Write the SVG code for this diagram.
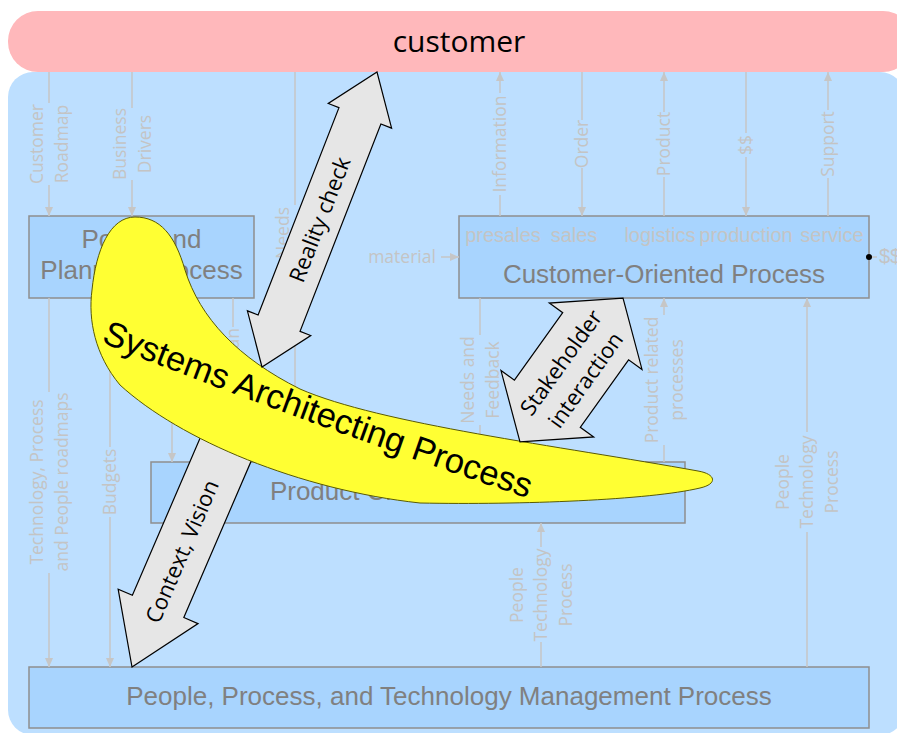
<svg xmlns="http://www.w3.org/2000/svg" width="897" height="733" viewBox="0 0 897 733">
<style>
.box{fill:#a8d4fe;stroke:#8e8e8e;stroke-width:1.5}
.boxt{font-family:'Liberation Sans',Arial,sans-serif;font-size:26px;fill:#808080;text-anchor:middle}
.sub{font-family:'Liberation Sans',Arial,sans-serif;font-size:20px;fill:#c4c4c4;text-anchor:middle}
.conn{stroke:#c6c6c6;stroke-width:1.5;fill:none}
.lbl{font-family:'Open Sans','DejaVu Sans',sans-serif;font-size:17.5px;fill:#c4c4c4;text-anchor:middle}
.big{fill:#e6e6e6;stroke:#000;stroke-width:1.2;stroke-linejoin:miter}
.bigt{font-family:'Open Sans','DejaVu Sans',sans-serif;font-size:22px;fill:#000;text-anchor:middle}
</style>
<defs>
<marker id="ah" viewBox="0 0 9 8" refX="9" refY="4" markerWidth="9" markerHeight="8" markerUnits="userSpaceOnUse" orient="auto"><path d="M0,0 L9,4 L0,8 z" fill="#c6c6c6"/></marker>
<path id="sapPath" d="M101,342 Q290,418 530,499"/>
</defs>

<g id="container"><rect x="8" y="72" width="897" height="663" rx="25" fill="#bddfff"/></g>

<g id="customer">
<rect x="8" y="11" width="905" height="61" rx="30" fill="#ffb8bb"/>
<text x="459" y="52" font-family="'Open Sans','DejaVu Sans',sans-serif" font-size="30" fill="#000" text-anchor="middle">customer</text>
</g>

<g id="policy">
<rect class="box" x="29" y="216" width="225" height="82"/>
<text class="boxt" x="141.5" y="248">Policy and</text>
<text class="boxt" x="141.5" y="279">Planning Process</text>
</g>

<g id="customer-oriented">
<rect class="box" x="459" y="216" width="410" height="82"/>
<text class="sub" x="503" y="242">presales</text>
<text class="sub" x="574" y="242">sales</text>
<text class="sub" x="660" y="242">logistics</text>
<text class="sub" x="746" y="242">production</text>
<text class="sub" x="832" y="242">service</text>
<text class="boxt" x="664" y="283">Customer-Oriented Process</text>
</g>

<g id="product-creation">
<rect class="box" x="151" y="462" width="534" height="61"/>
<text class="boxt" x="418" y="500">Product Creation Process</text>
</g>

<g id="ppt-management">
<rect class="box" x="29" y="667" width="840" height="61"/>
<text class="boxt" x="449" y="705">People, Process, and Technology Management Process</text>
</g>

<g id="connectors">
<path class="conn" marker-end="url(#ah)" d="M49,72 V103 M49,185 V216"/>
<path class="conn" marker-end="url(#ah)" d="M132,72 V108 M132,180 V216"/>
<path class="conn" marker-end="url(#ah)" d="M295,72 V205 M295,323 V462"/>
<path class="conn" marker-end="url(#ah)" d="M500,216 V195 M500,93 V72"/>
<path class="conn" marker-end="url(#ah)" d="M582,72 V120 M582,168 V216"/>
<path class="conn" marker-end="url(#ah)" d="M664,216 V177 M664,112 V72"/>
<path class="conn" marker-end="url(#ah)" d="M746,72 V133 M746,157 V216"/>
<path class="conn" marker-end="url(#ah)" d="M828,216 V178 M828,110 V72"/>
<path class="conn" marker-end="url(#ah)" d="M441,257 H459"/>
<path class="conn" d="M869,257 H877"/>
<circle cx="869" cy="257" r="3" fill="#000"/>
<path class="conn" marker-end="url(#ah)" d="M49,298 V392 M49,573 V667"/>
<path class="conn" marker-end="url(#ah)" d="M110,298 V447 M110,517 V667"/>
<path class="conn" marker-end="url(#ah)" d="M172,298 V462"/>
<path class="conn" marker-end="url(#ah)" d="M233,298 V327 M233,433 V462"/>
<path class="conn" marker-end="url(#ah)" d="M480,298 V335 M480,425 V462"/>
<path class="conn" marker-end="url(#ah)" d="M664,462 V445 M664,315 V298"/>
<path class="conn" marker-end="url(#ah)" d="M807,667 V532 M807,432 V298"/>
<path class="conn" marker-end="url(#ah)" d="M541,667 V642 M541,547 V523"/>

<g id="connector-labels">
<text class="lbl" transform="translate(49,144) rotate(-90)"><tspan x="0" y="-6">Customer</tspan><tspan x="0" y="18.5">Roadmap</tspan></text>
<text class="lbl" transform="translate(132,144) rotate(-90)"><tspan x="0" y="-6">Business</tspan><tspan x="0" y="18.5">Drivers</tspan></text>
<text class="lbl" transform="translate(295,267) rotate(-90)" style="text-anchor:end"><tspan x="60" y="-6" style="text-anchor:end">Needs</tspan></text>
<text class="lbl" transform="translate(500,144) rotate(-90)" y="6.3">Information</text>
<text class="lbl" transform="translate(582,144) rotate(-90)" y="6.3">Order</text>
<text class="lbl" transform="translate(664,144) rotate(-90)" y="6.3">Product</text>
<text class="lbl" transform="translate(746,145) rotate(-90)" y="6.3">$$</text>
<text class="lbl" transform="translate(828,144) rotate(-90)" y="6.3">Support</text>
<text class="lbl" x="402" y="263">material</text>
<text x="879" y="263" font-family="'Liberation Sans',Arial,sans-serif" font-size="20" fill="#c4c4c4">$$</text>
<text class="lbl" transform="translate(49,482) rotate(-90)"><tspan x="0" y="-6">Technology, Process</tspan><tspan x="0" y="18.5">and People roadmaps</tspan></text>
<text class="lbl" transform="translate(110,482) rotate(-90)" y="6.3">Budgets</text>
<text class="lbl" transform="translate(233,380) rotate(-90)" x="52" y="6.3" style="text-anchor:end">Plan</text>
<text class="lbl" transform="translate(480,380) rotate(-90)"><tspan x="0" y="-6">Needs and</tspan><tspan x="0" y="18.5">Feedback</tspan></text>
<text class="lbl" transform="translate(664,380) rotate(-90)"><tspan x="0" y="-6">Product related</tspan><tspan x="0" y="18.5">processes</tspan></text>
<text class="lbl" transform="translate(807,482) rotate(-90)"><tspan x="0" y="-18">People</tspan><tspan x="0" y="6.3">Technology</tspan><tspan x="0" y="31">Process</tspan></text>
<text class="lbl" transform="translate(541,595) rotate(-90)"><tspan x="0" y="-18">People</tspan><tspan x="0" y="6.3">Technology</tspan><tspan x="0" y="31">Process</tspan></text>
</g>
</g>

<g id="context-vision" transform="translate(132,667) rotate(-66.7)">
<path class="big" d="M0,0 L66,-43.5 L66,-28 L290,-28 L290,28 L66,28 L66,43.5 Z"/>
<text class="bigt" x="126" y="8">Context, Vision</text>
</g>

<g id="systems-architecting">
<path d="M135,217 C160,217 175,235 185,270 C200,318 238,358 300,389 C380,424 560,446 698,471 C716,474 718,484 700,488 C650,500 520,505 420,503 C300,490 180,440 120,385 C95,355 88,320 92,290 C96,250 110,217 135,217 Z" fill="#ffff33" stroke="#5a5a00" stroke-width="1"/>
<text font-family="'Liberation Sans',Arial,sans-serif" font-size="34.5" fill="#000"><textPath href="#sapPath">Systems Architecting Process</textPath></text>
</g>

<g id="reality-check" transform="translate(319.5,219.5) rotate(-68.7)">
<path class="big" d="M-158.3,0 L-111.3,-34 L-111.3,-22.5 L111.3,-22.5 L111.3,-34 L158.3,0 L111.3,34 L111.3,22.5 L-111.3,22.5 L-111.3,34 Z"/>
<text class="bigt" x="0" y="8">Reality check</text>
</g>

<g id="stakeholder-interaction" transform="translate(571.5,370) rotate(-54.4)">
<path class="big" d="M-88.5,0 L-41.5,-57 L-41.5,-40.5 L41.5,-40.5 L41.5,-57 L88.5,0 L41.5,57 L41.5,40.5 L-41.5,40.5 L-41.5,57 Z"/>
<text class="bigt"><tspan x="0" y="-5">Stakeholder</tspan><tspan x="0" y="25">interaction</tspan></text>
</g>
</svg>
